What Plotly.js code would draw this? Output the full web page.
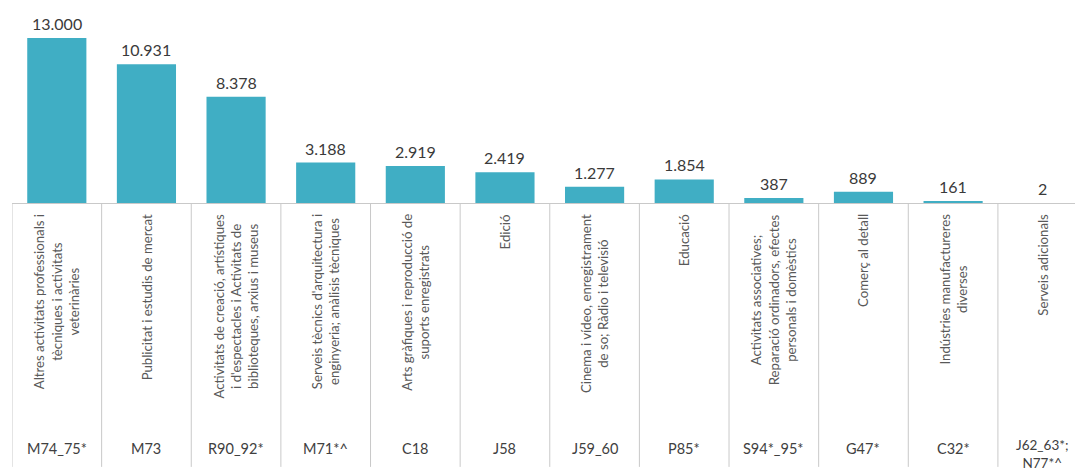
<!DOCTYPE html>
<html>
<head>
<meta charset="utf-8">
<script src="https://cdn.plot.ly/plotly-3.0.1.min.js"></script>
<style>html,body{margin:0;padding:0;background:#fff;}#chart{width:1075px;height:472px;}</style>
</head>
<body>
<div id="chart"></div>
<script>
const codes = ["M74_75*", "M73", "R90_92*", "M71*^", "C18", "J58", "J59_60", "P85*", "S94*_95*", "G47*", "C32*", "J62_63*;<br>N77*^"];
const categories = [
  "Altres activitats professionals i<br>tècniques i activitats<br>veterinàries",
  "Publicitat i estudis de mercat",
  "Activitats de creació, artístiques<br>i d'espectacles i Activitats de<br>biblioteques, arxius i museus",
  "Serveis tècnics d'arquitectura i<br>enginyeria; anàlisis tècniques",
  "Arts gràfiques i reproducció de<br>suports enregistrats",
  "Edició",
  "Cinema i vídeo, enregistrament<br>de so; Ràdio i televisió",
  "Educació",
  "Activitats associatives;<br>Reparació ordinadors, efectes<br>personals i domèstics",
  "Comerç al detall",
  "Indústries manufactureres<br>diverses",
  "Serveis adicionals"
];
const values = [13000, 10931, 8378, 3188, 2919, 2419, 1277, 1854, 387, 889, 161, 2];

function fmt(v) { return String(v).replace(/\B(?=(\d{3})+(?!\d))/g, "."); }

const FONT = "Lato, 'Open Sans', sans-serif";
const annotations = [];
const shapes = [];
values.forEach((v, i) => {
  const twoLine = codes[i].indexOf("<br>") >= 0;
  annotations.push({
    x: codes[i], y: v, xref: "x", yref: "y", text: fmt(v), showarrow: false,
    yanchor: "bottom", xanchor: "center", yshift: 3,
    font: {family: FONT, size: 16, color: "#3a3a3a"}
  });
  annotations.push({
    x: codes[i], y: -0.044, xref: "x", yref: "paper", text: categories[i], showarrow: false,
    yanchor: "top", xanchor: "center", textangle: -90, align: "center",
    font: {family: FONT, size: 13.2, color: "#595959"}
  });
  annotations.push({
    x: codes[i], y: -1.16, xref: "x", yref: "paper", text: codes[i], showarrow: false,
    yanchor: "top", xanchor: "center", align: "center", yshift: twoLine ? 3 : 0,
    font: {family: FONT, size: twoLine ? 13.5 : 14.5, color: "#404040"}
  });
});
for (let i = 0; i <= codes.length; i++) {
  shapes.push({type: "line", xref: "x", yref: "paper", x0: i - 0.5, x1: i - 0.5, y0: 0, y1: -1.3,
    line: {color: "#c9c9c9", width: 1}});
}

const trace = {
  type: "bar", x: codes, y: values,
  marker: {color: "#40aec4"},
  hoverinfo: "skip"
};

const layout = {
  width: 1075, height: 472,
  margin: {l: 12, r: 0, t: 0, b: 269, pad: 0},
  paper_bgcolor: "#ffffff", plot_bgcolor: "#ffffff",
  showlegend: false,
  bargap: 0.34,
  xaxis: {type: "category", range: [-0.5, 11.36], showticklabels: false, ticks: "",
    showgrid: false, zeroline: false, showline: true, linecolor: "#c9c9c9", linewidth: 1, fixedrange: true},
  yaxis: {range: [0, 16000], visible: false, showgrid: false, zeroline: false, fixedrange: true},
  annotations: annotations,
  shapes: shapes
};

Plotly.newPlot("chart", [trace], layout, {displayModeBar: false, staticPlot: true});
</script>
</body>
</html>
